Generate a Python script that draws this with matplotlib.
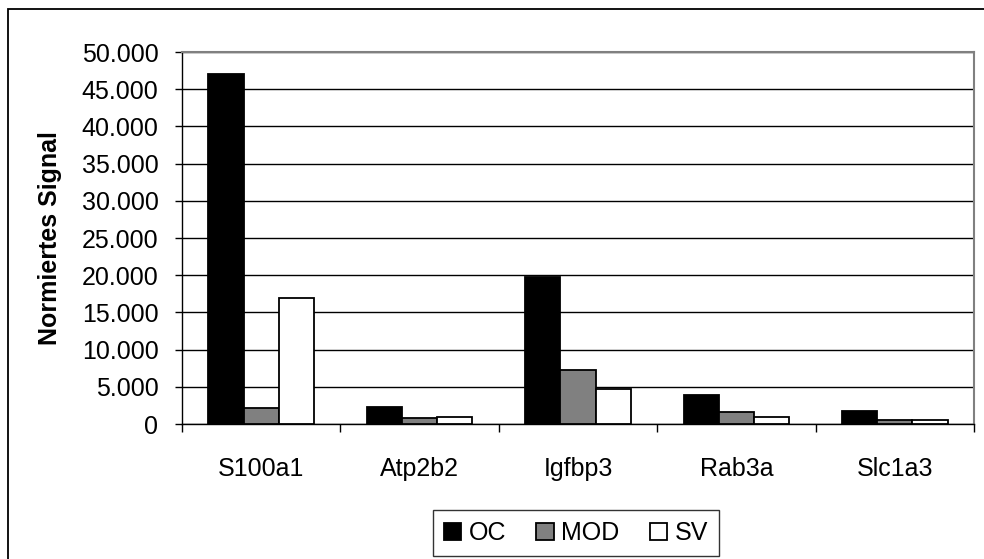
import numpy as np
import matplotlib
matplotlib.use("Agg")
import matplotlib.pyplot as plt
import matplotlib.ticker as mticker
from matplotlib.patches import Rectangle

plt.rcParams["font.family"] = ["Liberation Sans", "DejaVu Sans"]

# Normalised signal per gene and tissue
genes = ["S100a1", "Atp2b2", "Igfbp3", "Rab3a", "Slc1a3"]
oc  = [47000, 2300, 19800, 3900, 1700]
mod = [2200, 850, 7200, 1600, 500]
sv  = [17000, 900, 4700, 900, 600]

series = [("OC", oc, "#000000"), ("MOD", mod, "#808080"), ("SV", sv, "#ffffff")]
yticks = np.arange(0, 50001, 5000)


def de_thousands(v, _pos):
    return f"{int(v):,}".replace(",", ".")


fig = plt.figure(figsize=(9.84, 5.59), dpi=100)
W, H = 984, 559
ax = fig.add_axes([182 / W, 1 - 424 / H, (974 - 182) / W, (424 - 52) / H])

# outer chart frame (only left/top edges fall inside the canvas)
fig.patches.append(Rectangle((8 / W, -0.2), 1.2, 1.2 - 9 / H, transform=fig.transFigure,
                             fill=False, edgecolor="black", lw=1.3, zorder=0))

x = np.arange(len(genes))
width = 0.222
for i, (name, vals, color) in enumerate(series):
    ax.bar(x + (i - 1) * width, vals, width, color=color, edgecolor="black",
           linewidth=1.3, label=name, zorder=3)

ax.set_xlim(-0.5, len(genes) - 0.5)
ax.set_ylim(0, 50000)
ax.set_yticks(yticks)
ax.yaxis.set_major_formatter(mticker.FuncFormatter(de_thousands))
ax.grid(axis="y", color="black", lw=1.0, zorder=1)
ax.set_axisbelow(True)

ax.set_xticks(x)
ax.set_xticklabels(genes)
ax.set_xticks(np.arange(-0.5, len(genes)), minor=True)
ax.tick_params(axis="x", which="major", length=0, pad=24, labelsize=18)
ax.tick_params(axis="x", which="minor", length=6, width=1, direction="out")
ax.tick_params(axis="y", length=5, width=1, direction="out", pad=12, labelsize=18)

for side in ("top", "right"):
    ax.spines[side].set_color("#808080")
    ax.spines[side].set_linewidth(1.5)
for side in ("left", "bottom"):
    ax.spines[side].set_color("black")
    ax.spines[side].set_linewidth(1.0)

ax.set_ylabel("Normiertes Signal", fontsize=18, fontweight="bold", labelpad=14)

leg = fig.legend(loc="center", bbox_to_anchor=(576 / W, 1 - 533 / H), ncol=3,
                 fontsize=18, frameon=True, fancybox=False, handlelength=0.7,
                 handleheight=0.7, handletextpad=0.3, columnspacing=1.2,
                 borderpad=0.45)
leg.get_frame().set_edgecolor("black")
leg.get_frame().set_linewidth(1.0)

fig.savefig("out.png", dpi=100)
plt.close(fig)
